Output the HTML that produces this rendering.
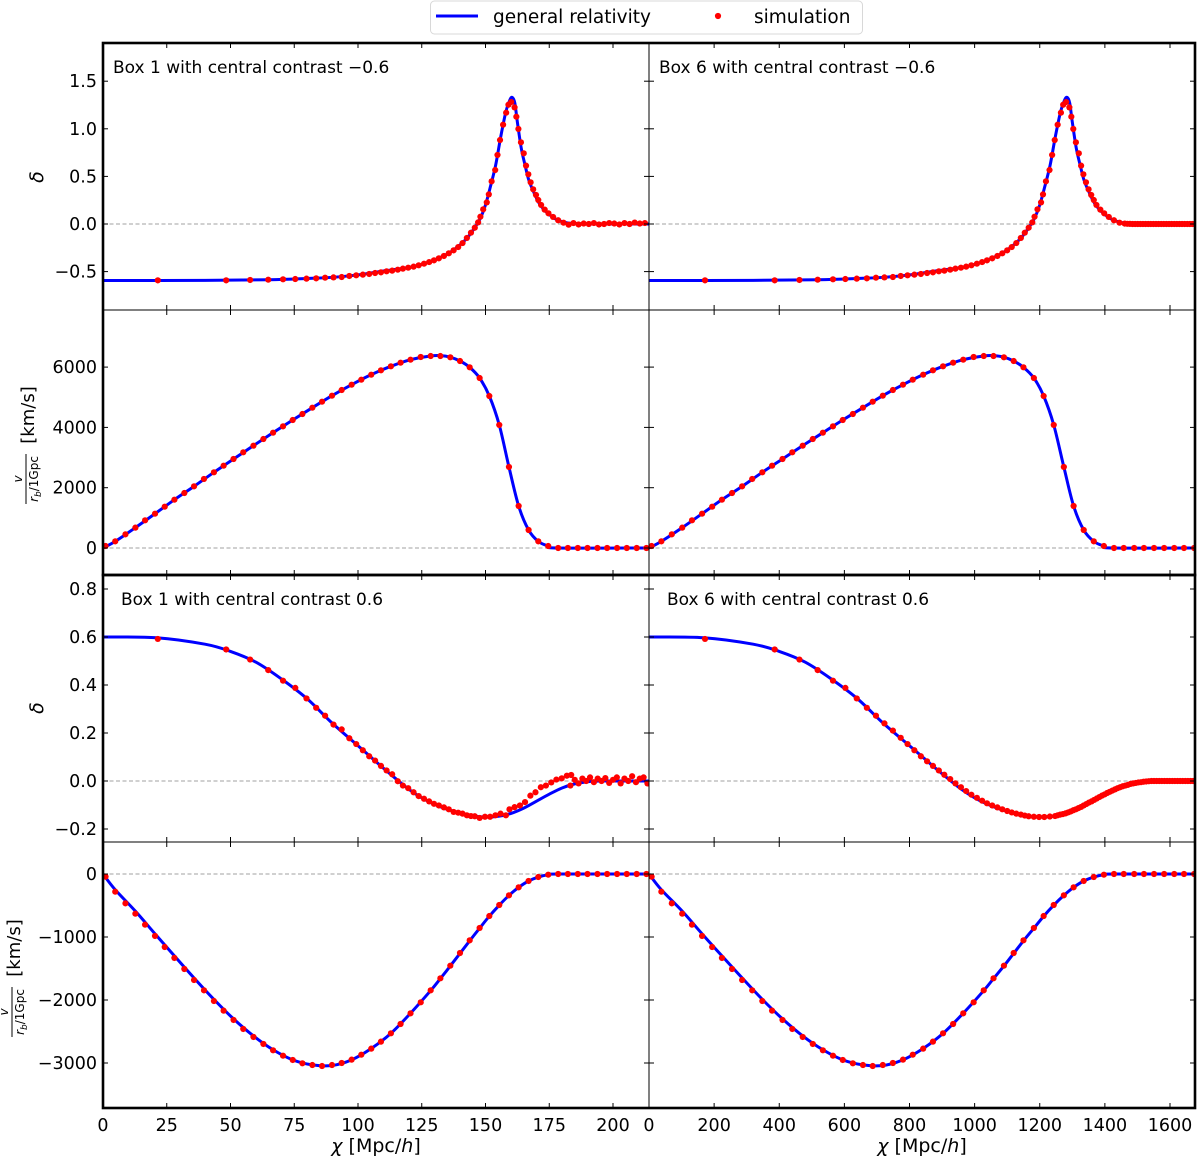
<!DOCTYPE html>
<html><head><meta charset="utf-8"><style>
html,body{margin:0;padding:0;background:#fff;}
svg{display:block;font-family:"DejaVu Sans","Liberation Sans",sans-serif;}
</style></head><body>
<svg id="chart" width="1200" height="1156" viewBox="0 0 1200 1156" xmlns="http://www.w3.org/2000/svg"></svg>
<script>
// ---------- data ----------
const grD1X=[0,40,65,80,90,100,110,120,126,132,136,140,143,146,148,150,152,154,156,158,159.5,160.5,161.5,162.5,164,165.5,167,169,171,173,175,178,182,187,192,214];
const grD6X=[0,320,520,640,720,800,880,960,1008,1056,1088,1120,1144,1168,1184,1200,1216,1232,1248,1264,1276,1284,1292,1300,1312,1324,1336,1352,1368,1384,1400,1424,1456,1496,1536,1712];
const grDneg=[-0.594,-0.592,-0.585,-0.572,-0.56,-0.535,-0.494,-0.455,-0.417,-0.355,-0.3,-0.22,-0.14,-0.03,0.06,0.2,0.4,0.62,0.92,1.18,1.3,1.33,1.27,1.07,0.8,0.62,0.46,0.33,0.22,0.15,0.1,0.045,0.012,0.002,0,0];
const simD1X=[21.5,48.3,57.7,64.8,70.6,75.4,79.8,83.6,87.1,90.4,93.6,96.6,99.3,101.9,104.4,106.7,109,111.2,113.4,115.6,117.6,119.7,121.8,123.8,125.9,127.9,129.8,131.7,133.7,135.6,137.5,139.3,141,142.7,144.3,145.8,147.1,148,149.1,150.5,151.3,152.4,153.8,154.7,155.7,156.9,158.1,159,160.1,161.4,162.1,162.9,163.9,165,165.9,166.8,167.7,168.7,169.8,170.7,171.8,173.2,174.7,176.5,178.5,180.6,182.6,184.5,186.5,188.5,190.5,192.5,194.5,196.5,198.5,200.5,202.5,204.5,206.5,208.5,210.5,212.5];
const simD1Y=[-0.592,-0.592,-0.588,-0.585,-0.581,-0.578,-0.574,-0.571,-0.564,-0.561,-0.557,-0.546,-0.539,-0.532,-0.525,-0.515,-0.508,-0.497,-0.49,-0.48,-0.469,-0.459,-0.448,-0.434,-0.417,-0.4,-0.382,-0.361,-0.336,-0.308,-0.277,-0.242,-0.2,-0.147,-0.091,-0.039,0.017,0.077,0.154,0.227,0.311,0.448,0.567,0.725,0.882,1.043,1.169,1.253,1.281,1.225,1.127,0.998,0.858,0.742,0.613,0.522,0.438,0.364,0.305,0.252,0.2,0.151,0.112,0.074,0.039,0.014,-0.007,0.01,-0.005,0.005,0.0,0.01,-0.005,0.0,0.01,0.005,-0.005,0.01,0.0,0.015,0.005,0.01];
const simD6X=[172,386,462,518,565,603,638,669,697,723,749,773,794,815,835,854,872,890,907,925,941,958,974,990,1007,1023,1038,1054,1070,1085,1100,1114,1128,1142,1154,1166,1177,1184,1193,1204,1210,1219,1230,1238,1246,1255,1265,1272,1281,1291,1297,1303,1311,1320,1327,1334,1342,1350,1358,1366,1374,1386,1398,1412,1428,1445,1461,1469,1477,1485,1493,1501,1509,1517,1525,1533,1541,1549,1557,1565,1573,1581,1589,1597,1605,1613,1621,1629,1637,1645,1653,1661,1669,1677,1685,1693,1701,1709];
const simD6Y=[-0.592,-0.592,-0.588,-0.585,-0.581,-0.578,-0.574,-0.571,-0.564,-0.561,-0.557,-0.546,-0.539,-0.532,-0.525,-0.515,-0.508,-0.497,-0.49,-0.48,-0.469,-0.459,-0.448,-0.434,-0.417,-0.4,-0.382,-0.361,-0.336,-0.308,-0.277,-0.242,-0.2,-0.147,-0.091,-0.039,0.017,0.077,0.154,0.227,0.311,0.448,0.567,0.725,0.882,1.043,1.169,1.253,1.281,1.225,1.127,0.998,0.858,0.742,0.613,0.522,0.438,0.364,0.305,0.252,0.2,0.151,0.112,0.074,0.039,0.014,0.004,0.002,0.001,0,0,0,0,0,0,0,0,0,0,0,0,0,0,0,0,0,0,0,0,0,0,0,0,0,0,0,0,0];

const grV1X=[0,4.8,12.7,20.4,28,35.7,43.5,51.2,59,66.7,74.4,82.1,89.8,97.5,105.2,112.9,120.6,128.5,132.3,136.2,140,143.8,147.7,151.5,155.4,159.2,163,166.9,170.7,174.6,178.5,214];
const grV6X=[0,38,102,163,224,286,348,410,472,534,595,657,718,780,842,903,965,1028,1058,1090,1120,1150,1182,1212,1243,1274,1304,1335,1366,1397,1428,1712];
const grVneg=[0,220,675,1138,1603,2045,2510,2952,3394,3825,4245,4654,5052,5417,5749,6026,6246,6368,6380,6330,6202,5993,5638,5041,4080,2687,1393,597,220,66,0,0];
const grVpos=[0,-250,-590,-950,-1300,-1650,-1990,-2300,-2570,-2790,-2950,-3030,-3040,-2950,-2770,-2530,-2210,-1850,-1660,-1460,-1260,-1060,-860,-670,-495,-340,-212,-111,-48,-11,0,0];
const simV1X=[1,4.8,8.8,12.7,16.5,20.4,24.2,28,31.9,35.7,39.6,43.5,47.3,51.2,55,59,62.9,66.7,70.6,74.4,78.2,82.1,85.9,89.8,93.6,97.5,101.3,105.2,109,112.9,116.7,120.6,124.6,128.5,132.3,136.2,140,143.8,147.7,151.5,155.4,159.2,163,166.9,170.7,174.6,178.5,182.3,186.2,190,193.9,197.7,201.6,205.4,209.3,213.1];
const simV6X=[8,38,70,102,132,163,194,224,255,286,317,348,378,410,440,472,503,534,565,595,626,657,687,718,749,780,810,842,872,903,934,965,997,1028,1058,1090,1120,1150,1182,1212,1243,1274,1304,1335,1366,1397,1428,1458,1490,1520,1551,1582,1613,1643,1674,1705];
const simVneg=[66,220,453,675,918,1138,1370,1603,1824,2045,2289,2510,2730,2952,3173,3394,3615,3825,4035,4245,4444,4654,4853,5052,5240,5417,5583,5749,5893,6026,6146,6246,6335,6368,6368,6324,6202,5993,5638,5041,4080,2687,1393,597,220,66,0,0,0,0,0,0,0,0,0,0];
const simVpos=[-42,-281,-466,-630,-804,-984,-1159,-1333,-1508,-1683,-1847,-2016,-2169,-2317,-2460,-2587,-2698,-2799,-2884,-2952,-3005,-3032,-3048,-3032,-3000,-2947,-2868,-2772,-2661,-2529,-2381,-2212,-2037,-1847,-1656,-1455,-1254,-1053,-857,-667,-492,-339,-212,-111,-48,-11,0,0,0,0,0,0,0,0,0,0];

const grP1X=[0,21,40,50,60,70,80,90,100,105,110,115,120,125,130,135,140,145,150,155,160,165,170,175,180,185,190,195,214];
const grP6X=[0,168,320,400,480,560,640,720,800,840,880,920,960,1000,1040,1080,1120,1160,1200,1240,1280,1320,1360,1400,1440,1480,1520,1560,1712];
const grDpos=[0.6,0.597,0.57,0.54,0.495,0.425,0.343,0.24,0.147,0.1,0.053,0.008,-0.035,-0.07,-0.097,-0.118,-0.133,-0.145,-0.15,-0.147,-0.135,-0.113,-0.084,-0.055,-0.029,-0.012,-0.003,0,0];
const simP1X=[21.5,48.3,57.7,64.8,70.6,75.4,79.8,83.6,87.1,90.4,93.6,96.6,99.3,101.9,104.4,106.7,109,111.2,113.4,115.6,117.6,119.7,121.8,123.8,125.9,127.9,129.8,131.7,133.7,135.6,137.5,139.3,141,142.7,144.3,145.8,147.7,149.8,151.8,153.9,155.9,158,159.4,161.4,163.5,165.5,167.6,169.6,171.7,173.7,175.8,177.8,179.9,181.9,183.6,183.3,185,186.5,188,189.5,191,192.5,194,195.5,197,198.5,200,201.5,203,204.5,206,207.5,209,210.5,212,213.5];
const simP1Y=[0.592,0.548,0.506,0.462,0.418,0.388,0.344,0.305,0.272,0.235,0.215,0.178,0.154,0.128,0.103,0.085,0.063,0.044,0.028,-0.001,-0.019,-0.03,-0.047,-0.063,-0.074,-0.085,-0.095,-0.102,-0.11,-0.118,-0.129,-0.132,-0.136,-0.143,-0.146,-0.147,-0.154,-0.149,-0.149,-0.143,-0.136,-0.143,-0.118,-0.109,-0.102,-0.088,-0.061,-0.047,-0.026,-0.019,-0.006,0.006,0.011,0.022,0.025,-0.019,0.005,-0.01,0.01,0.0,0.015,-0.005,0.01,0.0,0.012,-0.008,0.005,0.015,-0.01,0.01,0.0,0.02,-0.005,0.01,0.015,-0.01];
const simP6X=[172,386,462,518,565,603,638,669,697,723,749,773,794,815,835,854,872,890,907,925,941,958,974,990,1007,1023,1038,1054,1070,1085,1100,1114,1128,1142,1154,1166,1182,1198,1214,1231,1247,1255,1263,1271,1279,1287,1295,1303,1311,1319,1327,1335,1343,1351,1359,1367,1375,1383,1391,1399,1407,1415,1423,1431,1439,1447,1455,1463,1471,1479,1487,1495,1503,1511,1519,1527,1535,1543,1551,1559,1567,1575,1583,1591,1599,1607,1615,1623,1631,1639,1647,1655,1663,1671,1679,1687,1695,1703,1711];
const simP6Y=[0.592,0.548,0.506,0.462,0.418,0.388,0.344,0.305,0.272,0.24,0.21,0.18,0.154,0.128,0.103,0.082,0.063,0.044,0.026,0.008,-0.01,-0.026,-0.042,-0.057,-0.07,-0.082,-0.093,-0.102,-0.11,-0.118,-0.125,-0.131,-0.136,-0.14,-0.144,-0.147,-0.149,-0.15,-0.15,-0.148,-0.146,-0.143,-0.14,-0.138,-0.135,-0.131,-0.127,-0.122,-0.118,-0.113,-0.108,-0.102,-0.096,-0.09,-0.085,-0.079,-0.073,-0.067,-0.061,-0.056,-0.05,-0.045,-0.04,-0.035,-0.03,-0.026,-0.022,-0.019,-0.016,-0.012,-0.01,-0.008,-0.006,-0.005,-0.003,-0.002,-0.001,0,0,0,0,0,0,0,0,0,0,0,0,0,0,0,0,0,0,0,0,0,0];

const xTicks1=[0,25,50,75,100,125,150,175,200];
const xTicks6=[0,200,400,600,800,1000,1200,1400,1600];
const yTicksD=[1.5,1.0,0.5,0.0,-0.5];
const yTicksV=[0,2000,4000,6000];
const yTicksP=[0.8,0.6,0.4,0.2,0.0,-0.2];
const yTicksW=[0,-1000,-2000,-3000];

// ---------- geometry ----------
const NS="http://www.w3.org/2000/svg";
const svg=document.getElementById('chart');
function mk(tag,attrs,parent){const e=document.createElementNS(NS,tag);for(const k in attrs)e.setAttribute(k,attrs[k]);(parent||svg).appendChild(e);return e;}
const X1=v=>103+v*2.55;
const X6=v=>649+v*0.325625;
const rows=[
 {top:43,bot:310,Y:v=>224-v*95.2},
 {top:310,bot:575,Y:v=>548-v*0.03015},
 {top:575,bot:842,Y:v=>781-v*240},
 {top:842,bot:1108,Y:v=>874-v*0.063}
];
function fmt(v,dec){let s=dec?v.toFixed(1):String(v);return s.replace('-','\u2212');}
function smooth(pts){let d='M'+pts[0][0]+','+pts[0][1];for(let i=0;i<pts.length-1;i++){const p0=pts[i-1]||pts[i],p1=pts[i],p2=pts[i+1],p3=pts[i+2]||p2;const c1x=p1[0]+(p2[0]-p0[0])/6,c1y=p1[1]+(p2[1]-p0[1])/6,c2x=p2[0]-(p3[0]-p1[0])/6,c2y=p2[1]-(p3[1]-p1[1])/6;d+=' C'+c1x.toFixed(2)+','+c1y.toFixed(2)+' '+c2x.toFixed(2)+','+c2y.toFixed(2)+' '+p2[0].toFixed(2)+','+p2[1].toFixed(2);}return d;}

const clip=mk('defs',{});
rows.forEach((r,i)=>{
  [['L',103,649],['R',649,1195]].forEach(([s,a,b])=>{
    const cp=mk('clipPath',{id:'c'+i+s},clip);mk('rect',{x:a,y:r.top,width:b-a,height:r.bot-r.top},cp);
  });
});

function panel(rowIdx,side,grX,grY,sX,sY,name){
  const r=rows[rowIdx];const X=side==='L'?X1:X6;
  const g=mk('g',{'clip-path':'url(#c'+rowIdx+side+')'});
  
  
  const z=mk('line',{x1:side==='L'?103:649,x2:side==='L'?649:1195,y1:r.Y(0),y2:r.Y(0),stroke:'#a0a0a0','stroke-width':1,'stroke-dasharray':'4,2.5'},g);
  
  
  const pts=grX.map((x,i)=>[X(x),r.Y(grY[i])]);
  const p=mk('path',{d:smooth(pts),fill:'none',stroke:'#0000ff','stroke-width':3},g);
  
  
  sX.forEach((x,i)=>{
    const c=mk('circle',{cx:X(x),cy:r.Y(sY[i]),r:3.1,fill:'#ff0000'},g);
    
    
  });
}
panel(0,'L',grD1X,grDneg,simD1X,simD1Y,'box1-neg-delta');
panel(0,'R',grD6X,grDneg,simD6X,simD6Y,'box6-neg-delta');
panel(1,'L',grV1X,grVneg,simV1X,simVneg,'box1-neg-velocity');
panel(1,'R',grV6X,grVneg,simV6X,simVneg,'box6-neg-velocity');
panel(2,'L',grP1X,grDpos,simP1X,simP1Y,'box1-pos-delta');
panel(2,'R',grP6X,grDpos,simP6X,simP6Y,'box6-pos-delta');
panel(3,'L',grV1X,grVpos,simV1X,simVpos,'box1-pos-velocity');
panel(3,'R',grV6X,grVpos,simV6X,simVpos,'box6-pos-velocity');

// ticks
const yt=[[yTicksD,true],[yTicksV,false],[yTicksP,true],[yTicksW,false]];
rows.forEach((r,i)=>{
  yt[i][0].forEach(v=>{
    const y=r.Y(v);
    [103,649,1195].forEach(x0=>{
      if(x0!==1195) mk('line',{x1:x0,x2:x0+5,y1:y,y2:y,stroke:'#000','stroke-width':1});
      if(x0!==103) mk('line',{x1:x0,x2:x0-5,y1:y,y2:y,stroke:'#000','stroke-width':1});
    });
    const t=mk('text',{x:97,y:y+6,'text-anchor':'end','font-size':17.5,fill:'#000'});
    t.textContent=fmt(v,yt[i][1]);
    
    
  });
  [[xTicks1,X1],[xTicks6,X6]].forEach(([ts,X])=>{
    ts.forEach(v=>{const x=X(v);
      mk('line',{x1:x,x2:x,y1:r.top,y2:r.top+5,stroke:'#000','stroke-width':1});
      mk('line',{x1:x,x2:x,y1:r.bot,y2:r.bot-5,stroke:'#000','stroke-width':1});
    });
  });
});
[[xTicks1,X1],[xTicks6,X6]].forEach(([ts,X])=>{
  ts.forEach(v=>{const t=mk('text',{x:X(v),y:1131,'text-anchor':'middle','font-size':17.5,fill:'#000'});t.textContent=String(v);
    
    });
});
// frames
mk('line',{x1:103,x2:1195,y1:310,y2:310,stroke:'#000','stroke-width':1});
mk('line',{x1:103,x2:1195,y1:842,y2:842,stroke:'#000','stroke-width':1});
mk('line',{x1:649,x2:649,y1:43,y2:1108,stroke:'#000','stroke-width':1});
mk('rect',{x:103,y:43,width:1092,height:532,fill:'none',stroke:'#000','stroke-width':2.6});
mk('rect',{x:103,y:575,width:1092,height:533,fill:'none',stroke:'#000','stroke-width':2.6});
</script>
<script>
const s2=document.getElementById('chart');
s2.insertAdjacentHTML('beforeend',`
<text x="113" y="73" font-size="17">Box 1 with central contrast −0.6</text>
<text x="659" y="73" font-size="17">Box 6 with central contrast −0.6</text>
<text x="121" y="605" font-size="17">Box 1 with central contrast 0.6</text>
<text x="667" y="605" font-size="17">Box 6 with central contrast 0.6</text>
<text transform="translate(43,177) rotate(-90)" text-anchor="middle" font-size="19" font-style="italic">δ</text>
<text transform="translate(43,708) rotate(-90)" text-anchor="middle" font-size="19" font-style="italic">δ</text>
<g transform="translate(0,462)">
 <text transform="translate(34,-47) rotate(-90)" text-anchor="middle" font-size="18">[km/s]</text>
 <line x1="26" x2="26" y1="-8" y2="42" stroke="#000" stroke-width="1"/>
 <text transform="translate(22,17) rotate(-90)" text-anchor="middle" font-size="12" font-style="italic">v</text>
 <text transform="translate(38,17) rotate(-90)" text-anchor="middle" font-size="12"><tspan font-style="italic">r</tspan><tspan font-size="9" dy="3" font-style="italic">b</tspan><tspan dy="-3">/1Gpc</tspan></text>
</g>
<g transform="translate(0,995)">
 <text transform="translate(20,-47) rotate(-90)" text-anchor="middle" font-size="18">[km/s]</text>
 <line x1="12" x2="12" y1="-8" y2="42" stroke="#000" stroke-width="1"/>
 <text transform="translate(8,17) rotate(-90)" text-anchor="middle" font-size="12" font-style="italic">v</text>
 <text transform="translate(24,17) rotate(-90)" text-anchor="middle" font-size="12"><tspan font-style="italic">r</tspan><tspan font-size="9" dy="3" font-style="italic">b</tspan><tspan dy="-3">/1Gpc</tspan></text>
</g>
<text x="376" y="1152" text-anchor="middle" font-size="19"><tspan font-style="italic">χ</tspan> [Mpc/<tspan font-style="italic">h</tspan>]</text>
<text x="922" y="1152" text-anchor="middle" font-size="19"><tspan font-style="italic">χ</tspan> [Mpc/<tspan font-style="italic">h</tspan>]</text>
<g>
 <rect x="430.5" y="1" width="432" height="33" rx="4" fill="#fff" stroke="#d8d8d8" stroke-width="1"/>
 <line x1="436" x2="478" y1="16" y2="16" stroke="#0000ff" stroke-width="3"/>
 <text x="493" y="23" font-size="18.5">general relativity</text>
 <circle cx="718" cy="16" r="3.1" fill="#ff0000"/>
 <text x="754" y="23" font-size="18.5">simulation</text>
</g>`);
</script>
</body></html>
